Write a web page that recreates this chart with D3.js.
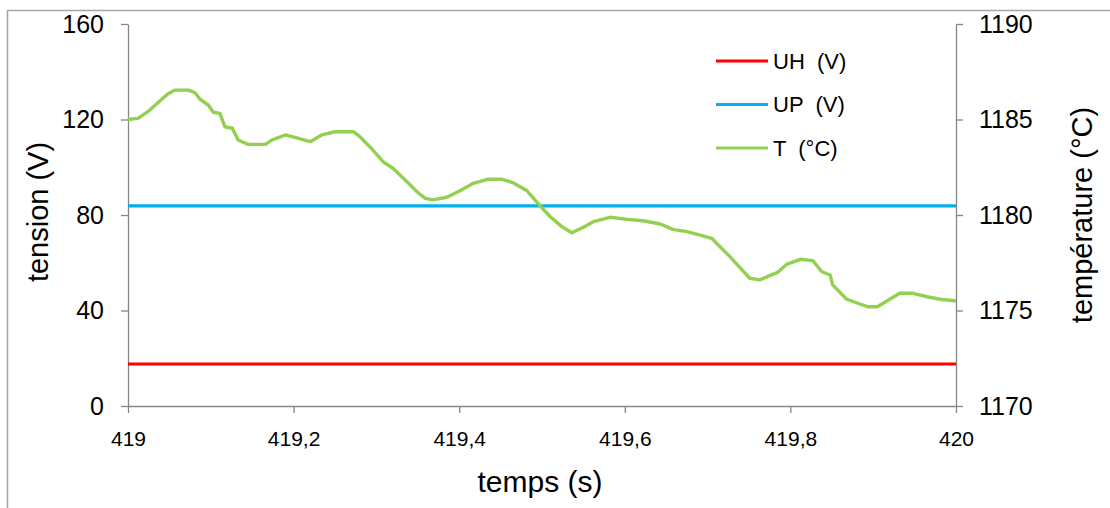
<!DOCTYPE html>
<html>
<head>
<meta charset="utf-8">
<script src="https://cdn.jsdelivr.net/npm/d3@7"></script>
<style>
  html, body { margin: 0; padding: 0; background: #fff; }
  svg { display: block; }
  text { font-family: "Liberation Sans", Arial, sans-serif; fill: #000; }
</style>
</head>
<body>
<script>
// ---------- data ----------
const timeTicks = [419, 419.2, 419.4, 419.6, 419.8, 420];
const timeTickLabels = ["419", "419,2", "419,4", "419,6", "419,8", "420"];
const voltTicks = [0, 40, 80, 120, 160];
const voltTickLabels = ["0", "40", "80", "120", "160"];
const tempTicks = [1170, 1175, 1180, 1185, 1190];
const tempTickLabels = ["1170", "1175", "1180", "1185", "1190"];

const seriesNames = ["UH  (V)", "UP  (V)", "T  (°C)"];
const seriesColors = ["#FF0000", "#00B0F0", "#92D050"];

const uhTimes = [419, 420];
const uhValues = [17.6, 17.6];
const upTimes = [419, 420];
const upValues = [83.8, 83.8];

const tTimes = [
  419.000, 419.012, 419.024, 419.036, 419.048, 419.057, 419.073, 419.081, 419.087, 419.097,
  419.103, 419.111, 419.117, 419.126, 419.133, 419.145, 419.166, 419.174, 419.190, 419.205,
  419.220, 419.234, 419.250, 419.260, 419.272, 419.280, 419.295, 419.308, 419.320, 419.337,
  419.349, 419.359, 419.368, 419.385, 419.401, 419.417, 419.434, 419.452, 419.465, 419.482,
  419.495, 419.510, 419.524, 419.536, 419.550, 419.562, 419.582, 419.603, 419.622, 419.643,
  419.658, 419.675, 419.691, 419.705, 419.715, 419.727, 419.739, 419.751, 419.763, 419.772,
  419.784, 419.796, 419.812, 419.827, 419.838, 419.848, 419.851, 419.868, 419.884, 419.893,
  419.905, 419.917, 419.932, 419.948, 419.965, 419.981, 420.000
];
const tValues = [
  1185.00, 1185.06, 1185.41, 1185.88, 1186.34, 1186.54, 1186.54, 1186.40, 1186.06, 1185.76,
  1185.38, 1185.32, 1184.62, 1184.54, 1183.93, 1183.70, 1183.70, 1183.93, 1184.19, 1184.02,
  1183.84, 1184.19, 1184.36, 1184.36, 1184.36, 1184.10, 1183.44, 1182.79, 1182.45, 1181.74,
  1181.22, 1180.87, 1180.79, 1180.93, 1181.27, 1181.66, 1181.87, 1181.87, 1181.69, 1181.27,
  1180.61, 1179.91, 1179.39, 1179.07, 1179.36, 1179.65, 1179.88, 1179.77, 1179.70, 1179.53,
  1179.25, 1179.13, 1178.95, 1178.78, 1178.34, 1177.82, 1177.25, 1176.69, 1176.60, 1176.77,
  1176.98, 1177.43, 1177.68, 1177.61, 1177.03, 1176.86, 1176.34, 1175.59, 1175.34, 1175.20,
  1175.20, 1175.51, 1175.90, 1175.90, 1175.72, 1175.59, 1175.50
];

// ---------- layout ----------
const W = 1110, H = 508;
const m = { left: 128, right: 956, top: 24, bottom: 406 };
const axisColor = "#868686";

const svg = d3.select("body").append("svg").attr("width", W).attr("height", H);

// outer frame (partially off-canvas like the reference)
svg.append("rect")
  .attr("x", 7.5).attr("y", 10.5).attr("width", 1120).attr("height", 520)
  .attr("fill", "none").attr("stroke", "#a6a6a6").attr("stroke-width", 1.5);

const x = d3.scaleLinear().domain([419, 420]).range([m.left, m.right]);
const yV = d3.scaleLinear().domain([0, 160]).range([m.bottom, m.top]);
const yT = d3.scaleLinear().domain([1170, 1190]).range([m.bottom, m.top]);

function styleAxis(g) {
  g.select(".domain").attr("stroke", axisColor).attr("stroke-width", 1.3);
  g.selectAll(".tick line").attr("stroke", axisColor).attr("stroke-width", 1.3);
  g.selectAll("text").attr("fill", "#000");
}

// left axis
svg.append("g")
  .attr("transform", `translate(${m.left},0)`)
  .call(d3.axisLeft(yV).tickValues(voltTicks).tickFormat((d, i) => voltTickLabels[i])
        .tickSize(7).tickSizeOuter(0).tickPadding(17))
  .call(styleAxis)
  .call(g => g.selectAll("text").style("font-size", "25px").style("font-family", '"Liberation Sans", Arial, sans-serif'));

// right axis
svg.append("g")
  .attr("transform", `translate(${m.right},0)`)
  .call(d3.axisRight(yT).tickValues(tempTicks).tickFormat((d, i) => tempTickLabels[i])
        .tickSize(7).tickSizeOuter(0).tickPadding(16))
  .call(styleAxis)
  .call(g => g.selectAll("text").style("font-size", "25px").style("font-family", '"Liberation Sans", Arial, sans-serif'));

// bottom axis
svg.append("g")
  .attr("transform", `translate(0,${m.bottom})`)
  .call(d3.axisBottom(x).tickValues(timeTicks)
        .tickFormat((d, i) => timeTickLabels[i]).tickSize(7).tickSizeOuter(0).tickPadding(18))
  .call(styleAxis)
  .call(g => g.selectAll("text").style("font-size", "21px").style("font-family", '"Liberation Sans", Arial, sans-serif'));

// axis titles
svg.append("text")
  .attr("transform", "translate(48,212) rotate(-90)")
  .attr("text-anchor", "middle")
  .style("font-size", "29px")
  .text("tension (V)");

svg.append("text")
  .attr("transform", "translate(1092,215) rotate(-90)")
  .attr("text-anchor", "middle")
  .style("font-size", "29px")
  .text("température (°C)");

svg.append("text")
  .attr("x", 540).attr("y", 492)
  .attr("text-anchor", "middle")
  .style("font-size", "30px")
  .text("temps (s)");

// series lines
const lineV = d3.line().x(d => x(d[0])).y(d => yV(d[1]));
const lineT = d3.line().x(d => x(d[0])).y(d => yT(d[1]));

svg.append("path")
  .datum(uhTimes.map((t, i) => [t, uhValues[i]]))
  .attr("d", lineV).attr("fill", "none")
  .attr("stroke", seriesColors[0]).attr("stroke-width", 3.2);

svg.append("path")
  .datum(upTimes.map((t, i) => [t, upValues[i]]))
  .attr("d", lineV).attr("fill", "none")
  .attr("stroke", seriesColors[1]).attr("stroke-width", 3.2);

svg.append("path")
  .datum(tTimes.map((t, i) => [t, tValues[i]]))
  .attr("d", lineT).attr("fill", "none")
  .attr("stroke", seriesColors[2]).attr("stroke-width", 3.4)
  .attr("stroke-linejoin", "round");

// legend
const legendY = [61, 104.5, 148];
const leg = svg.append("g");
seriesNames.forEach((name, i) => {
  leg.append("line")
    .attr("x1", 716).attr("x2", 768)
    .attr("y1", legendY[i]).attr("y2", legendY[i])
    .attr("stroke", seriesColors[i]).attr("stroke-width", 3.2);
  leg.append("text")
    .attr("x", 773).attr("y", legendY[i])
    .attr("dy", "0.36em")
    .style("font-size", "22px")
    .style("white-space", "pre")
    .attr("xml:space", "preserve")
    .text(name);
});
</script>
</body>
</html>
